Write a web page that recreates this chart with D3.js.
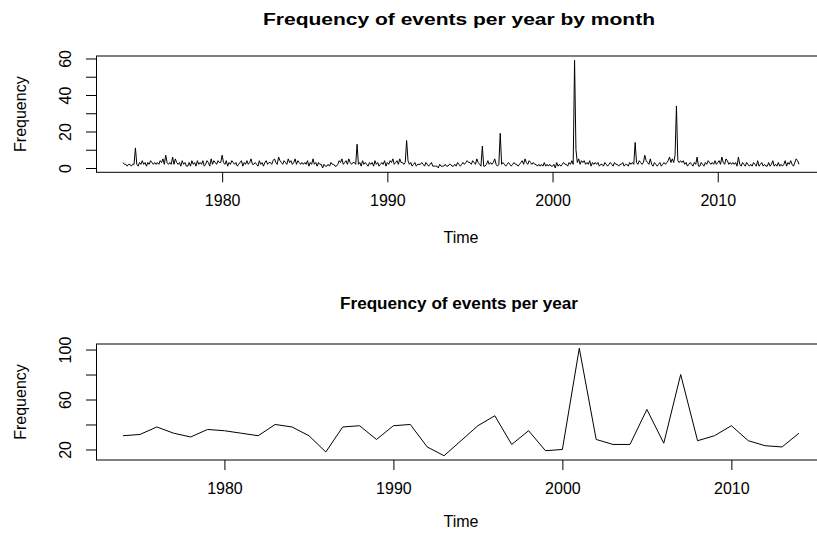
<!DOCTYPE html>
<html>
<head>
<meta charset="utf-8">
<script src="https://cdn.jsdelivr.net/npm/d3@7"></script>
<style>
  html, body { margin: 0; padding: 0; background: #fff; }
  svg { display: block; }
  text { font-family: "Liberation Sans", Arial, Helvetica, sans-serif; fill: #000; }
</style>
</head>
<body>
<svg id="chart" width="817" height="535"></svg>
<script>
// Monthly event counts, January 1974 to December 2014 (one row per year)
const monthlyStart = 1974;
const monthlyCounts = [
  3,2,2,1,2,2,1,2,2,11,2,1,      // 1974
  3,2,4,2,3,1,3,2,4,3,2,3,       // 1975
  2,3,2,4,3,5,2,7,3,2,3,2,       // 1976
  6,2,5,3,2,3,1,4,2,3,1,1,       // 1977
  3,1,4,2,3,1,4,2,3,2,4,1,       // 1978
  2,4,3,1,5,2,4,3,2,4,3,3,       // 1979
  7,3,2,4,1,3,2,4,3,2,3,1,       // 1980
  2,3,4,1,3,2,4,2,3,5,2,2,       // 1981
  3,2,1,4,2,3,1,3,4,2,3,3,       // 1982
  2,4,5,3,2,6,4,3,2,4,3,2,       // 1983
  5,3,4,2,3,5,2,4,3,2,3,2,       // 1984
  3,2,4,1,3,2,5,2,3,1,3,2,       // 1985
  2,0,2,1,1,2,1,3,2,2,1,1,       // 1986
  2,4,3,5,2,3,4,2,5,3,2,3,       // 1987
  3,2,13,2,3,1,4,2,3,2,1,3,      // 1988
  2,3,1,4,2,3,1,2,3,2,4,1,       // 1989
  3,2,4,3,5,2,3,4,2,5,3,3,       // 1990
  2,3,15,4,2,3,1,2,3,1,2,2,      // 1991
  2,3,2,1,3,2,1,2,3,1,1,1,       // 1992
  1,0,2,1,1,1,2,1,1,2,2,1,       // 1993
  1,2,1,3,2,1,2,3,2,3,4,3,       // 1994
  3,2,4,3,2,5,3,2,1,12,1,1,      // 1995
  2,4,2,3,2,3,5,2,1,2,19,2,      // 1996
  3,2,1,2,3,2,1,2,3,2,2,1,       // 1997
  2,3,4,2,5,3,2,4,3,2,3,2,       // 1998
  2,1,2,1,2,1,3,1,2,1,2,1,       // 1999
  1,2,0,3,1,2,1,2,3,2,2,1,       // 2000
  3,2,4,2,59,10,3,5,2,4,3,4,     // 2001
  2,3,2,4,1,3,2,3,2,3,1,2,       // 2002
  2,1,3,2,1,2,3,2,1,3,2,2,       // 2003
  1,2,2,3,1,2,2,1,3,2,3,2,       // 2004
  14,3,2,4,3,2,3,7,4,3,2,5,      // 2005
  2,1,3,2,1,2,3,1,2,3,2,3,       // 2006
  4,6,3,5,3,7,34,4,3,4,3,4,      // 2007
  2,3,1,2,3,2,1,3,2,6,1,1,       // 2008
  3,2,1,3,2,4,3,2,3,2,4,2,       // 2009
  3,4,2,6,3,2,5,4,2,3,2,3,       // 2010
  2,3,1,6,2,1,3,2,1,3,2,1,       // 2011
  2,1,3,2,1,4,1,2,3,1,2,1,       // 2012
  1,3,1,2,4,1,2,1,3,1,2,1,       // 2013
  2,4,1,3,2,4,2,1,3,5,4,2        // 2014
];

// Yearly event totals
const years = [1974,1975,1976,1977,1978,1979,1980,1981,1982,1983,1984,1985,1986,1987,
  1988,1989,1990,1991,1992,1993,1994,1995,1996,1997,1998,1999,2000,2001,2002,2003,
  2004,2005,2006,2007,2008,2009,2010,2011,2012,2013,2014];
const yearlyCounts = [31,32,38,33,30,36,35,33,31,40,38,31,18,38,39,28,39,40,22,15,27,
  39,47,24,35,19,20,101,28,24,24,52,25,80,27,31,39,27,23,22,33];

// Axis ticks
const timeTicks = [1980, 1990, 2000, 2010];
const monthlyYTicks = [0, 10, 20, 30, 40, 50, 60];
const monthlyYLabels = [0, 20, 40, 60];
const yearlyYTicks = [20, 40, 60, 80, 100];
const yearlyYLabels = [20, 60, 100];

const titles = ["Frequency of events per year by month", "Frequency of events per year"];

const monthlySeries = monthlyCounts.map((v, i) => ({ t: monthlyStart + i / 12, v }));
const yearlySeries = yearlyCounts.map((v, i) => ({ t: years[i], v }));

const svg = d3.select("#chart");
svg.append("rect").attr("width", 817).attr("height", 535).attr("fill", "#fff");

// Extend a range by 4% on each side, as base R plotting does
function padded(lo, hi) {
  const d = (hi - lo) * 0.04;
  return [lo - d, hi + d];
}

function panel(cfg) {
  const { series, top, bottom, left, right, yTicks, yLabels, title, titleWidth, textOffset } = cfg;
  const g = svg.append("g");

  const x = d3.scaleLinear()
    .domain(padded(d3.min(series, d => d.t), d3.max(series, d => d.t)))
    .range([left, right]);
  const y = d3.scaleLinear()
    .domain(padded(d3.min(series, d => d.v), d3.max(series, d => d.v)))
    .range([bottom, top]);

  // data line
  g.append("path")
    .datum(series)
    .attr("fill", "none")
    .attr("stroke", "#000")
    .attr("stroke-width", 1)
    .attr("stroke-linejoin", "round")
    .attr("d", d3.line().x(d => x(d.t)).y(d => y(d.v)));

  // x axis
  const xa = g.append("g")
    .attr("transform", `translate(0,${bottom})`)
    .call(d3.axisBottom(x).tickValues(timeTicks).tickSize(10).tickFormat(d3.format("d")));
  xa.select(".domain").remove();
  xa.selectAll(".tick line").attr("stroke", "#000");
  xa.selectAll(".tick text")
    .attr("y", 34).attr("dy", 0)
    .style("font-size", "16px")
    .style("font-family", "Liberation Sans, Arial, sans-serif")
    .attr("fill", "#000");

  // y axis with labels drawn parallel to the axis
  const ya = g.append("g")
    .attr("transform", `translate(${left},0)`)
    .call(d3.axisLeft(y).tickValues(yTicks).tickSize(10)
      .tickFormat(d => yLabels.includes(d) ? String(d) : ""));
  ya.select(".domain").remove();
  ya.selectAll(".tick line").attr("stroke", "#000");
  ya.selectAll(".tick text")
    .attr("x", 0).attr("dy", "0.36em")
    .attr("transform", "translate(-31,0) rotate(-90)")
    .attr("text-anchor", "middle")
    .style("font-size", "16px")
    .style("font-family", "Liberation Sans, Arial, sans-serif")
    .attr("fill", "#000");

  // plot frame
  g.append("rect")
    .attr("x", left + 0.5).attr("y", top)
    .attr("width", right - left).attr("height", bottom - top)
    .attr("fill", "none").attr("stroke", "#000").attr("stroke-width", 1);

  const cx = (left + right) / 2;
  g.append("text")
    .attr("x", cx - 2).attr("y", 25 + textOffset)
    .attr("text-anchor", "middle")
    .attr("textLength", titleWidth)
    .attr("lengthAdjust", "spacingAndGlyphs")
    .style("font-size", "16px").style("font-weight", "bold")
    .text(title);

  g.append("text")
    .attr("x", cx).attr("y", 243 + textOffset)
    .attr("text-anchor", "middle")
    .style("font-size", "16px")
    .text("Time");

  g.append("text")
    .attr("transform", `translate(20,${(top + bottom) / 2}) rotate(-90)`)
    .attr("dy", "0.36em")
    .attr("text-anchor", "middle")
    .style("font-size", "16px")
    .text("Frequency");
}

panel({ series: monthlySeries, top: 56, bottom: 172.3, left: 96, right: 826,
  yTicks: monthlyYTicks, yLabels: monthlyYLabels, title: titles[0], titleWidth: 392, textOffset: 0 });
panel({ series: yearlySeries, top: 344, bottom: 460, left: 96, right: 826,
  yTicks: yearlyYTicks, yLabels: yearlyYLabels, title: titles[1], titleWidth: 238, textOffset: 284 });
</script>
</body>
</html>
